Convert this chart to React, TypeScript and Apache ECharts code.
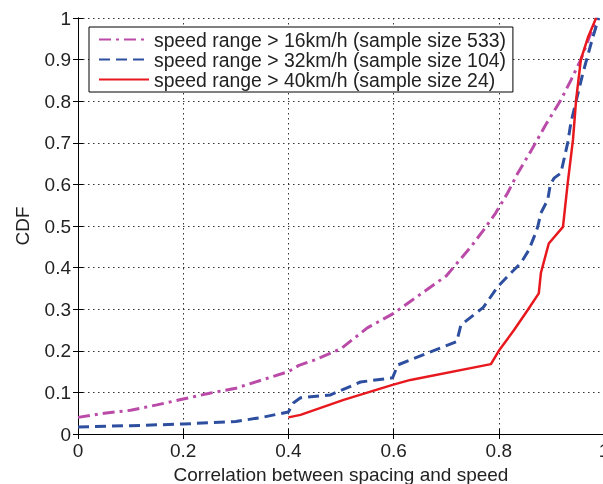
import React, { useEffect, useRef } from "react";
import * as echarts from "echarts";

const seriesNames = [
  "speed range > 16km/h (sample size 533)",
  "speed range > 32km/h (sample size 104)",
  "speed range > 40km/h (sample size 24)",
];

const x16 = [0, 0.05, 0.1, 0.15, 0.2, 0.25, 0.3, 0.35, 0.4, 0.42, 0.45, 0.5, 0.55, 0.6, 0.65, 0.7, 0.747, 0.771, 0.794, 0.817, 0.836, 0.861, 0.89, 0.918, 0.937, 0.956, 0.975, 0.988];
const y16 = [0.04, 0.05, 0.057, 0.07, 0.084, 0.098, 0.11, 0.13, 0.15, 0.165, 0.178, 0.205, 0.255, 0.29, 0.335, 0.38, 0.45, 0.49, 0.531, 0.58, 0.627, 0.68, 0.745, 0.803, 0.85, 0.9, 0.964, 1.0];

const x32 = [0, 0.1, 0.2, 0.3, 0.35, 0.4, 0.41, 0.423, 0.48, 0.537, 0.598, 0.608, 0.665, 0.72, 0.728, 0.771, 0.798, 0.823, 0.842, 0.857, 0.87, 0.874, 0.88, 0.893, 0.898, 0.905, 0.918, 0.931, 0.937, 0.96, 0.979, 0.99];
const y32 = [0.017, 0.02, 0.024, 0.03, 0.04, 0.053, 0.075, 0.087, 0.094, 0.125, 0.135, 0.166, 0.195, 0.222, 0.262, 0.305, 0.354, 0.387, 0.411, 0.442, 0.483, 0.498, 0.531, 0.563, 0.6, 0.615, 0.627, 0.7, 0.748, 0.868, 0.955, 1.0];

const x40 = [0.4, 0.423, 0.505, 0.598, 0.632, 0.785, 0.8, 0.829, 0.855, 0.876, 0.88, 0.895, 0.922, 0.931, 0.941, 0.947, 0.956, 0.97, 0.985];
const y40 = [0.04, 0.046, 0.082, 0.118, 0.13, 0.168, 0.2, 0.25, 0.298, 0.338, 0.387, 0.458, 0.498, 0.603, 0.707, 0.803, 0.9, 0.955, 1.0];

const xTicks = [0, 0.2, 0.4, 0.6, 0.8, 1];
const yTicks = [0, 0.1, 0.2, 0.3, 0.4, 0.5, 0.6, 0.7, 0.8, 0.9, 1];

const FONT = "'Liberation Sans', Arial, Helvetica, sans-serif";
const TEXT = "#222";

const zip = (xs: number[], ys: number[]) => xs.map((x, i) => [x, ys[i]]);

export default function App() {
  const ref = useRef<HTMLDivElement>(null);
  useEffect(() => {
    if (!ref.current) return;
    const chart = echarts.init(ref.current, undefined, { renderer: "svg" });
    const fmt = (v: number) => {
      const t = [...xTicks, ...yTicks].find((k) => Math.abs(k - v) < 1e-9);
      const n = t === undefined ? v : t;
      return n === 0 ? "0" : n === 1 ? "1" : String(Number(n.toFixed(1)));
    };
    const splitLine = { show: true, lineStyle: { color: "#333", width: 1, type: [1.5, 3.5] as any } };
    const hiddenAxisBase = {
      type: "value" as const,
      min: 0,
      max: 1,
      axisLabel: { show: false },
      splitLine: { show: false },
      axisLine: { show: true, lineStyle: { color: "#000", width: 1 } },
      axisTick: { show: true, inside: true, length: 5, lineStyle: { color: "#000" } },
    };
    chart.setOption({
      animation: false,
      textStyle: { fontFamily: FONT },
      grid: { left: 78, top: 18, width: 526, bottom: 50, containLabel: false, outerBoundsMode: "none" },
      xAxis: [
        {
          type: "value",
          min: 0,
          max: 1,
          interval: 0.2,
          name: "Correlation between spacing and speed",
          nameLocation: "middle",
          nameGap: 31,
          nameTextStyle: { fontSize: 19, color: TEXT, fontFamily: FONT },
          axisLine: { show: true, onZero: false, lineStyle: { color: "#000", width: 1 } },
          axisTick: { show: true, inside: true, length: 5, lineStyle: { color: "#000" } },
          axisLabel: { fontSize: 19, color: TEXT, margin: 7, fontFamily: FONT, formatter: fmt, showMaxLabel: true },
          splitLine,
        },
        { ...hiddenAxisBase, interval: 0.2, position: "top" },
      ],
      yAxis: [
        {
          type: "value",
          min: 0,
          max: 1,
          interval: 0.1,
          name: "CDF",
          nameLocation: "middle",
          nameGap: 46,
          nameRotate: 90,
          nameTextStyle: { fontSize: 19, color: TEXT, fontFamily: FONT },
          axisLine: { show: true, onZero: false, lineStyle: { color: "#000", width: 1 } },
          axisTick: { show: true, inside: true, length: 5, lineStyle: { color: "#000" } },
          axisLabel: { fontSize: 19, color: TEXT, margin: 7, fontFamily: FONT, formatter: fmt },
          splitLine,
        },
        { ...hiddenAxisBase, interval: 0.1, position: "right" },
      ],
      legend: {
        orient: "vertical",
        left: 89,
        top: 27,
        padding: [3, 7, 3, 9],
        itemGap: 1,
        itemWidth: 50,
        itemHeight: 14,
        borderColor: "#000",
        borderWidth: 1,
        backgroundColor: "#fff",
        itemStyle: { opacity: 0 },
        textStyle: { fontSize: 19.4, color: TEXT, fontFamily: FONT },
        data: seriesNames,
      },
      series: [
        {
          name: seriesNames[0],
          type: "line",
          data: zip(x16, y16),
          symbol: "none",
          lineStyle: { color: "#bb4ba8", width: 3, type: [12, 5, 3, 5] },
          itemStyle: { color: "#bb4ba8" },
          z: 3,
        },
        {
          name: seriesNames[1],
          type: "line",
          data: zip(x32, y32),
          symbol: "none",
          lineStyle: { color: "#2e4f9f", width: 3, type: [11, 6] },
          itemStyle: { color: "#2e4f9f" },
          z: 4,
        },
        {
          name: seriesNames[2],
          type: "line",
          data: zip(x40, y40),
          symbol: "none",
          lineStyle: { color: "#e8191e", width: 2.5, type: "solid" },
          itemStyle: { color: "#e8191e" },
          z: 5,
        },
      ],
    });
    return () => chart.dispose();
  }, []);
  return <div ref={ref} style={{ position: "fixed", left: 0, top: 0, width: 603, height: 484, overflow: "hidden" }} />;
}
